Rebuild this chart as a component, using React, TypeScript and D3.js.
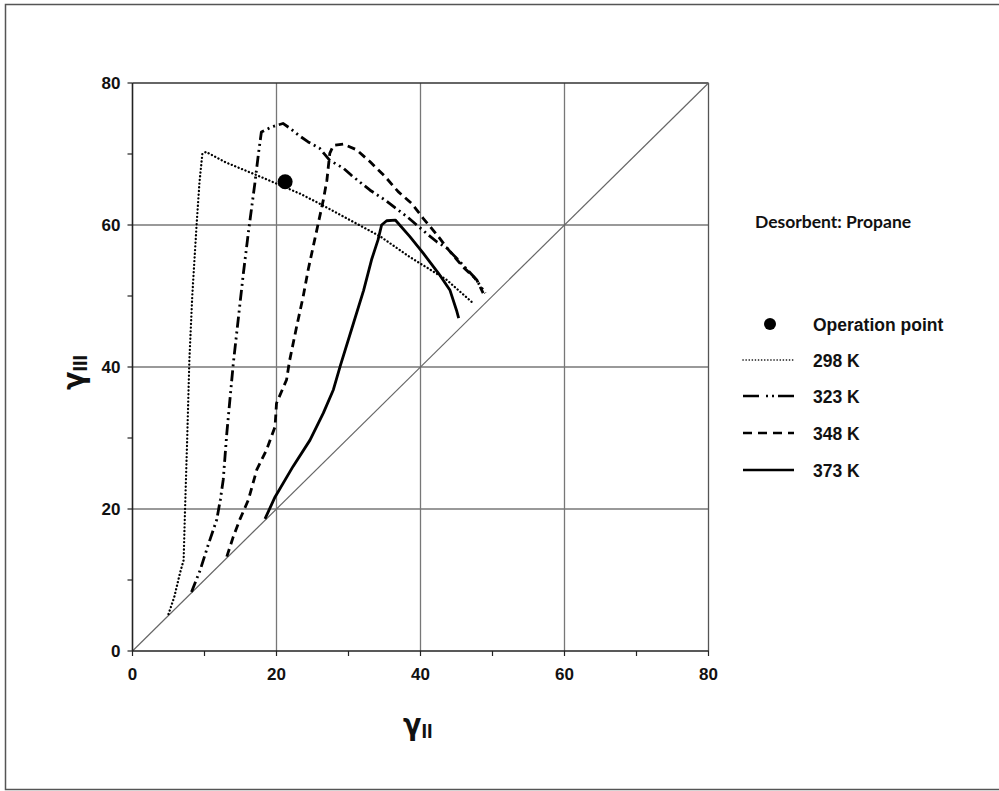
import React from "react";
import * as d3 from "d3";

const xTicks = [0, 20, 40, 60, 80];
const yTicks = [0, 20, 40, 60, 80];
const minorTicks = [10, 30, 50, 70];

const operationPoint: [number, number] = [21.2, 66.1];

const series298: [number, number][] = [
  [5, 5.2], [5.8, 7.6], [6.6, 11], [7.1, 12.8], [7.3, 20], [7.6, 30], [7.9, 41],
  [8.3, 50], [8.9, 60], [9.3, 66], [9.7, 70], [10.2, 70.3], [13, 68.8], [17.3, 67.0],
  [21, 65.4], [23.3, 64.4], [26, 63], [30, 60.8], [34.4, 58.4], [38.5, 55.5],
  [43.6, 52.3], [47.3, 49],
];
const series323: [number, number][] = [
  [8.2, 8.3], [9.4, 11.4], [10.5, 14.9], [11.7, 18.5], [12.2, 21.3], [12.6, 24.1],
  [13.1, 30.7], [14.0, 40.5], [15.4, 53.2], [16.1, 59], [17.0, 65.9], [17.5, 70.1],
  [17.9, 73.1], [19.3, 73.8], [20.9, 74.3], [21.9, 73.6], [23.0, 72.7], [24.4, 71.7],
  [26.0, 70.8], [27.4, 69.1], [29.3, 68.0], [30.4, 67.0], [33.0, 64.9], [35.1, 63.5],
  [36.5, 62.4], [38.1, 61.2], [39.7, 59.8], [41.1, 58.6], [42.3, 57.6], [43.6, 56.8],
  [45.5, 54.8], [47.5, 52.6], [49.0, 50.4],
];
const series348: [number, number][] = [
  [13.1, 13.3], [14.0, 16.1], [14.9, 18.5], [16.1, 21.3], [17.25, 25.5], [18.6, 28.3],
  [19.8, 31.6], [20.0, 34.9], [21.4, 38.2], [21.8, 40.8], [22.8, 45.7], [23.7, 49.9],
  [24.4, 53.7], [25.3, 57.9], [26.5, 63.5], [27.0, 66.3], [27.4, 70.1], [27.9, 71.2],
  [29.3, 71.4], [31.1, 70.6], [33.0, 68.9], [35.1, 66.8], [36.9, 64.7], [38.8, 63.0],
  [40.4, 60.9], [42.3, 58.6], [43.9, 56.5], [45.9, 54.1], [47.8, 52.3], [48.7, 50.4],
];
const series373: [number, number][] = [
  [18.4, 18.6], [19.8, 21.7], [22.3, 26.0], [24.65, 29.7], [26.5, 33.5], [27.9, 36.8],
  [28.9, 40.3], [30.7, 46.2], [32.1, 50.8], [33.2, 55.1], [34.1, 57.9], [34.6, 60.0],
  [35.3, 60.6], [36.5, 60.7], [38.5, 58.4], [40.4, 56.0], [42.5, 53.2], [44.1, 50.8],
  [45.0, 48.0], [45.3, 46.9],
];

const seriesNames = ["298 K", "323 K", "348 K", "373 K"];
const seriesData = [series298, series323, series348, series373];
const seriesDash = ["0.1,3.6", "11,4,2,4,2,4", "8,5", ""];
const seriesWidth = [2.3, 2.8, 2.8, 2.8];
const seriesCap: ("round" | "butt")[] = ["round", "butt", "butt", "butt"];

export default function App() {
  const left = 132.5, right = 708.5, top = 83, bottom = 651;
  const x = d3.scaleLinear().domain([0, 80]).range([left, right]);
  const y = d3.scaleLinear().domain([0, 80]).range([bottom, top]);
  const line = d3.line<[number, number]>().x((d) => x(d[0])).y((d) => y(d[1]));
  const tickFont = "'Liberation Sans Narrow', 'Liberation Sans', Arial, sans-serif";
  const legFont = "'Liberation Sans', Arial, sans-serif";
  const greekFont = "'DejaVu Sans Condensed', 'DejaVu Sans', sans-serif";
  const legY = [325, 361, 397, 434, 471];

  return (
    <svg width={999} height={791} style={{ position: "absolute", left: 0, top: 0, background: "#fff" }}>
      <rect x={0} y={0} width={999} height={791} fill="#fff" />
      <rect x={5.5} y={4.5} width={1000} height={785} fill="none" stroke="#555" strokeWidth={1.5} />
      {/* grid */}
      {[20, 40, 60].map((v) => (
        <g key={"g" + v}>
          <line x1={x(v)} x2={x(v)} y1={y(0)} y2={y(80)} stroke="#777" strokeWidth={1.3} />
          <line x1={x(0)} x2={x(80)} y1={y(v)} y2={y(v)} stroke="#777" strokeWidth={1.3} />
        </g>
      ))}
      <line x1={x(80)} x2={x(80)} y1={y(0)} y2={y(80)} stroke="#555" strokeWidth={1.3} />
      <line x1={x(0)} x2={x(80)} y1={y(80)} y2={y(80)} stroke="#333" strokeWidth={1.5} />
      {/* diagonal */}
      <line x1={x(0)} y1={y(0)} x2={x(80)} y2={y(80)} stroke="#666" strokeWidth={1.2} />
      {/* axes */}
      <line x1={x(0)} x2={x(0)} y1={y(0)} y2={y(80)} stroke="#222" strokeWidth={1.6} />
      <line x1={x(0)} x2={x(80)} y1={y(0)} y2={y(0)} stroke="#222" strokeWidth={1.6} />
      {[...xTicks, ...minorTicks].map((v) => (
        <line key={"xt" + v} x1={x(v)} x2={x(v)} y1={y(0)} y2={y(0) + 5} stroke="#222" strokeWidth={1.2} />
      ))}
      {[...yTicks, ...minorTicks].map((v) => (
        <line key={"yt" + v} x1={x(0) - 5} x2={x(0)} y1={y(v)} y2={y(v)} stroke="#222" strokeWidth={1.2} />
      ))}
      {xTicks.map((v) => (
        <text key={"xl" + v} x={x(v)} y={y(0) + 29} textAnchor="middle" fontFamily={tickFont} fontWeight="bold" fontSize={17} fill="#111">
          {v}
        </text>
      ))}
      {yTicks.map((v) => (
        <text key={"yl" + v} x={x(0) - 12} y={y(v) + 6} textAnchor="end" fontFamily={tickFont} fontWeight="bold" fontSize={17} fill="#111">
          {v}
        </text>
      ))}
      {/* axis titles */}
      <text x={403} y={735} fontFamily={greekFont} fontWeight="bold" fontSize={30} fill="#111">
        γ<tspan fontFamily={tickFont} fontSize={20} dy={3}>II</tspan>
      </text>
      <text transform="translate(84,390) rotate(-90)" fontFamily={greekFont} fontWeight="bold" fontSize={30} fill="#111">
        γ<tspan fontFamily={tickFont} fontSize={20} dy={3}>III</tspan>
      </text>
      {/* series */}
      {seriesData.map((s, i) => (
        <path key={"s" + i} d={line(s) || ""} fill="none" stroke="#000" strokeWidth={seriesWidth[i]}
          strokeDasharray={seriesDash[i] || undefined} strokeLinecap={seriesCap[i]} strokeLinejoin="round" />
      ))}
      <circle cx={x(operationPoint[0])} cy={y(operationPoint[1])} r={7.5} fill="#000" />
      {/* legend */}
      <text x={755} y={228} fontFamily="Lato, 'Open Sans', sans-serif" fontWeight="bold" fontSize={17.5} fill="#111">
        Desorbent: Propane
      </text>
      <circle cx={770} cy={legY[0] - 1} r={6} fill="#000" />
      <text x={813} y={legY[0] + 6} fontFamily={legFont} fontWeight="bold" fontSize={17.5} fill="#111">Operation point</text>
      {seriesNames.map((n, i) => (
        <g key={"lg" + i}>
          <line x1={743} x2={794} y1={legY[i + 1] - 1} y2={legY[i + 1] - 1} stroke="#000" strokeWidth={i === 0 ? 1.6 : 2.4}
            strokeDasharray={i === 0 ? "0.1,3" : i === 1 ? "16,7,2,4,2,4" : i === 2 ? "9,6" : undefined} strokeLinecap={seriesCap[i]} />
          <text x={813} y={legY[i + 1] + 6} fontFamily={legFont} fontWeight="bold" fontSize={17.5} fill="#111">{n}</text>
        </g>
      ))}
    </svg>
  );
}
